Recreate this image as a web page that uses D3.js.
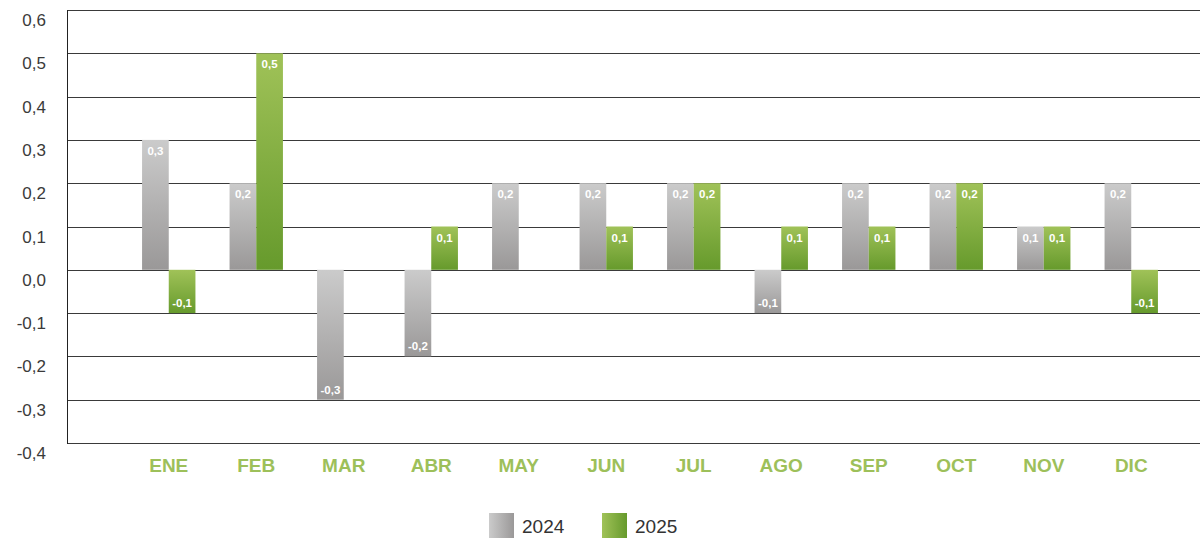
<!DOCTYPE html>
<html>
<head>
<meta charset="utf-8">
<script src="https://cdn.jsdelivr.net/npm/d3@7"></script>
<style>
  body { margin: 0; background: #fff; }
  svg { display: block; font-family: "Liberation Sans", Arial, sans-serif; }
</style>
</head>
<body>
<div id="chart"></div>
<script>
// Data
const months = ["ENE", "FEB", "MAR", "ABR", "MAY", "JUN", "JUL", "AGO", "SEP", "OCT", "NOV", "DIC"];
const values2024 = [0.3, 0.2, -0.3, -0.2, 0.2, 0.2, 0.2, -0.1, 0.2, 0.2, 0.1, 0.2];
const values2025 = [-0.1, 0.5, null, 0.1, null, 0.1, 0.2, 0.1, 0.1, 0.2, 0.1, -0.1];
const seriesNames = ["2024", "2025"];
const yTicks = [-0.4, -0.3, -0.2, -0.1, 0, 0.1, 0.2, 0.3, 0.4, 0.5, 0.6];

const width = 1200, height = 539;
const fmt = v => d3.format(".1f")(v).replace(".", ",").replace("−", "-");

const svg = d3.select("#chart").append("svg")
    .attr("width", width)
    .attr("height", height);

// Gradients
const defs = svg.append("defs");
function addGradient(id, c1, c2, horizontal) {
    const g = defs.append("linearGradient")
        .attr("id", id)
        .attr("x1", 0).attr("y1", 0)
        .attr("x2", horizontal ? 1 : 0).attr("y2", horizontal ? 0 : 1);
    g.append("stop").attr("offset", "0%").attr("stop-color", c1);
    g.append("stop").attr("offset", "100%").attr("stop-color", c2);
}
addGradient("grayV", "#cbcbcb", "#9a9898", false);
addGradient("greenV", "#a0c258", "#669a2c", false);
addGradient("grayH", "#cbcbcb", "#9a9898", true);
addGradient("greenH", "#a0c258", "#669a2c", true);

const y = d3.scaleLinear().domain([-0.4, 0.6]).range([443, 10]);
const x = d3.scaleBand().domain(months).range([125, 1175]).paddingInner(0.39).paddingOuter(0.195);
const xs = d3.scaleBand().domain(seriesNames).range([0, x.bandwidth()]);

// Grid lines
svg.append("g")
    .selectAll("line")
    .data(yTicks)
    .join("line")
    .attr("x1", 67).attr("x2", width)
    .attr("y1", d => Math.round(y(d)) + 0.5)
    .attr("y2", d => Math.round(y(d)) + 0.5)
    .attr("stroke", "#3a3a3a")
    .attr("stroke-width", 1.2);

// Left axis line
svg.append("line")
    .attr("x1", 67.5).attr("x2", 67.5)
    .attr("y1", y(0.6)).attr("y2", y(-0.4) + 1)
    .attr("stroke", "#222");

// Y tick labels sit just below their grid line
svg.append("g")
    .selectAll("text")
    .data(yTicks)
    .join("text")
    .attr("x", 46)
    .attr("y", d => y(d) + 16)
    .attr("text-anchor", "end")
    .attr("font-size", "17px")
    .attr("fill", "#3a3a3a")
    .text(d => fmt(d));

// Bars
const series = [
    { name: "2024", values: values2024, fill: "url(#grayV)" },
    { name: "2025", values: values2025, fill: "url(#greenV)" }
];

series.forEach(s => {
    const pts = months.map((m, i) => ({ m, v: s.values[i] })).filter(d => d.v !== null);
    const g = svg.append("g");
    g.selectAll("rect")
        .data(pts)
        .join("rect")
        .attr("x", d => x(d.m) + xs(s.name))
        .attr("width", xs.bandwidth())
        .attr("y", d => y(Math.max(0, d.v)))
        .attr("height", d => Math.abs(y(d.v) - y(0)))
        .attr("fill", s.fill);

    g.selectAll("text")
        .data(pts)
        .join("text")
        .attr("x", d => x(d.m) + xs(s.name) + xs.bandwidth() / 2)
        .attr("y", d => d.v >= 0 ? y(d.v) + 15 : y(d.v) - 6)
        .attr("text-anchor", "middle")
        .attr("font-size", "11.5px")
        .attr("font-weight", "bold")
        .attr("fill", "#fff")
        .text(d => fmt(d.v));
});

// Month labels
svg.append("g")
    .selectAll("text")
    .data(months)
    .join("text")
    .attr("x", d => x(d) + x.bandwidth() / 2)
    .attr("y", 472)
    .attr("text-anchor", "middle")
    .attr("font-size", "19px")
    .attr("font-weight", "bold")
    .attr("fill", "#9dc05a")
    .text(d => d);

// Legend
const legend = svg.append("g").attr("transform", "translate(489, 513)");
[["2024", "url(#grayH)"], ["2025", "url(#greenH)"]].forEach(([label, fill], i) => {
    const row = legend.append("g").attr("transform", `translate(${i * 113}, 0)`);
    row.append("rect").attr("width", 25).attr("height", 25).attr("fill", fill);
    row.append("text")
        .attr("x", 33).attr("y", 20)
        .attr("font-size", "19px")
        .attr("fill", "#333")
        .text(label);
});
</script>
</body>
</html>
